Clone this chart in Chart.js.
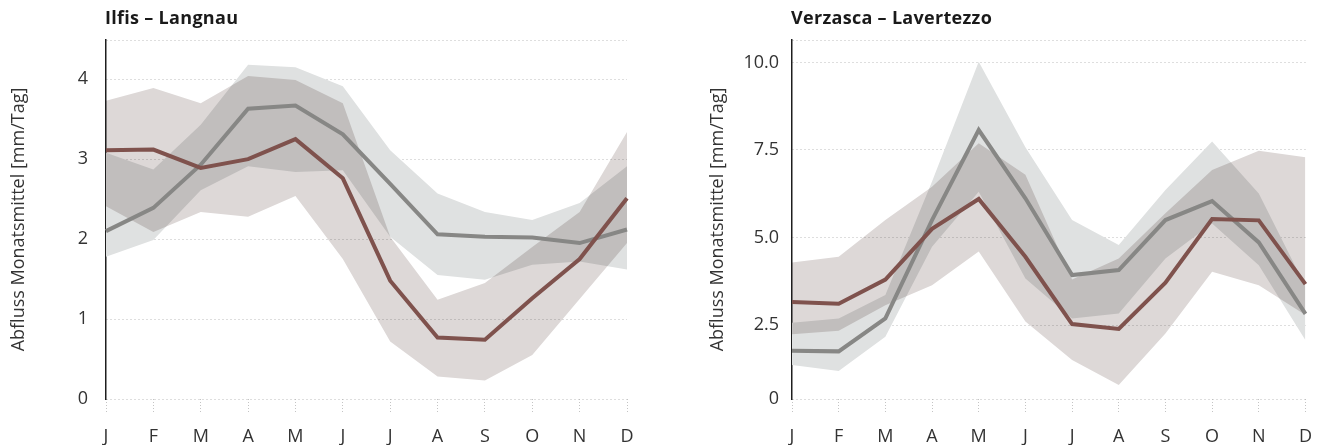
<!DOCTYPE html>
<html>
<head>
<meta charset="utf-8">
<script src="https://cdn.jsdelivr.net/npm/chart.js@4.4.0/dist/chart.umd.min.js"></script>
<style>
  html, body { margin: 0; padding: 0; background: #fff; }
  #wrap { position: relative; width: 1326px; height: 445px; overflow: hidden; }
  .panel { position: absolute; top: 0; width: 663px; height: 445px; }
  .title { position: absolute; top: 4px; font-family: 'Open Sans', sans-serif; font-weight: 700;
           font-size: 18px; line-height: 26px; letter-spacing: 0.3px; color: #1a1a1a; white-space: nowrap; }
</style>
</head>
<body>
<div id="wrap">
  <div class="panel" style="left:0"><canvas id="c1" width="663" height="445"></canvas></div>
  <div class="panel" style="left:663px"><canvas id="c2" width="663" height="445"></canvas></div>
  <div class="title" style="left:105px">Ilfis – Langnau</div>
  <div class="title" style="left:791px">Verzasca – Lavertezzo</div>
</div>
<script>
// ---- categories ----
const months = ['J', 'F', 'M', 'A', 'M', 'J', 'J', 'A', 'S', 'O', 'N', 'D'];
const yTitle = 'Abfluss Monatsmittel [mm/Tag]';

// ---- Ilfis – Langnau ----
const ilfisGrey       = [2.10, 2.39, 2.93, 3.63, 3.67, 3.31, 2.69, 2.06, 2.03, 2.02, 1.95, 2.12];
const ilfisGreyUpper  = [3.08, 2.87, 3.43, 4.18, 4.15, 3.91, 3.11, 2.57, 2.34, 2.24, 2.45, 2.91];
const ilfisGreyLower  = [1.78, 1.99, 2.61, 2.91, 2.84, 2.86, 2.03, 1.55, 1.49, 1.68, 1.72, 1.62];
const ilfisBrown      = [3.11, 3.12, 2.89, 3.00, 3.25, 2.76, 1.48, 0.77, 0.74, 1.26, 1.75, 2.51];
const ilfisBrownUpper = [3.73, 3.89, 3.70, 4.04, 3.99, 3.70, 2.03, 1.24, 1.45, 1.90, 2.34, 3.34];
const ilfisBrownLower = [2.41, 2.09, 2.34, 2.28, 2.54, 1.75, 0.72, 0.28, 0.23, 0.55, 1.25, 1.95];
const ilfisTickValues = [0, 1, 2, 3, 4];
const ilfisTickLabels = ['0', '1', '2', '3', '4'];
const ilfisRange = [0, 4.49];

// ---- Verzasca – Lavertezzo ----
const verzGrey       = [1.77, 1.75, 2.69, 5.50, 8.07, 6.12, 3.93, 4.07, 5.50, 6.04, 4.86, 2.82];
const verzGreyUpper  = [2.57, 2.69, 3.36, 6.60, 10.02, 7.58, 5.50, 4.79, 6.36, 7.74, 6.26, 3.60];
const verzGreyLower  = [1.36, 1.19, 2.17, 4.74, 6.31, 3.83, 2.69, 2.83, 4.40, 5.40, 4.21, 2.07];
const verzBrown      = [3.16, 3.11, 3.80, 5.25, 6.10, 4.45, 2.53, 2.39, 3.71, 5.53, 5.49, 3.67];
const verzBrownUpper = [4.29, 4.45, 5.50, 6.45, 7.69, 6.79, 3.80, 4.40, 5.69, 6.93, 7.48, 7.29];
const verzBrownLower = [2.24, 2.34, 3.07, 3.64, 4.60, 2.60, 1.50, 0.79, 2.26, 4.02, 3.64, 2.79];
const verzTickValues = [0.39, 2.5, 5, 7.5, 10];
const verzTickLabels = ['0', '2.5', '5.0', '7.5', '10.0'];
const verzRange = [0.39, 10.64];

// ---- styles ----
const COL_GREY_LINE = '#878785';
const COL_BROWN_LINE = '#7f524d';
const COL_GREY_BAND = '#dfe1e1';
const COL_BROWN_BAND = '#ddd8d7';
const FONT = 'Open Sans';

// grey band opaque; brown band multiplied on top (darker overlap)
const blendPlugin = {
  id: 'blend',
  afterDatasetDraw(chart, args) {
    const ds = chart.data.datasets[args.index];
    if (ds._role === 'brownLower') chart.ctx.globalCompositeOperation = 'multiply';
    if (ds._role === 'brownUpper') chart.ctx.globalCompositeOperation = 'source-over';
  },
  afterDraw(chart) { chart.ctx.globalCompositeOperation = 'source-over'; }
};

function band(data, role, order, fill, color) {
  return { data, _role: role, order, fill, backgroundColor: color,
           borderColor: 'rgba(0,0,0,0)', borderWidth: 0, pointRadius: 0, tension: 0 };
}
function line(data, color, order) {
  return { data, order, fill: false, borderColor: color, borderWidth: 4,
           borderJoinStyle: 'miter', pointRadius: 0, tension: 0 };
}

function makeChart(id, s) {
  const tv = s.tickValues, tl = s.tickLabels;
  return new Chart(document.getElementById(id), {
    type: 'line',
    data: {
      labels: months,
      datasets: [
        line(s.brown, COL_BROWN_LINE, 0),
        line(s.grey, COL_GREY_LINE, 1),
        band(s.brownUpper, 'brownUpper', 2, '+1', COL_BROWN_BAND),
        band(s.brownLower, 'brownLower', 3, false, COL_BROWN_BAND),
        band(s.greyUpper, 'greyUpper', 4, '+1', COL_GREY_BAND),
        band(s.greyLower, 'greyLower', 5, false, COL_GREY_BAND)
      ]
    },
    options: {
      responsive: false,
      animation: false,
      devicePixelRatio: 1,
      layout: { padding: { top: 40, right: s.padRight, bottom: 0, left: 0 } },
      plugins: { legend: { display: false }, tooltip: { enabled: false }, title: { display: false } },
      scales: {
        x: {
          type: 'category',
          offset: false,
          grid: { display: true, drawOnChartArea: false, drawTicks: true, tickLength: 13,
                  tickColor: '#c4c4c4', tickWidth: 1, tickBorderDash: [1, 2] },
          border: { display: false },
          ticks: { color: '#333', font: { family: FONT, size: 18, weight: '400' }, padding: 14,
                   maxRotation: 0, autoSkip: false },
          afterFit: (sc) => { sc.height = 46; }
        },
        y: {
          type: 'linear',
          min: s.range[0], max: s.range[1],
          grid: { color: '#bcbcbc', lineWidth: 1, drawTicks: false },
          border: { display: true, color: '#1e1e1e', width: 1.5, dash: [1, 3] },
          afterBuildTicks: (sc) => {
            sc.ticks = tv.map(v => ({ value: v })).concat([{ value: s.range[1] }]);
          },
          ticks: {
            color: '#333', padding: s.tickPad,
            font: { family: FONT, size: 18, weight: '400' },
            callback: (v) => { const i = tv.indexOf(v); return i >= 0 ? tl[i] : ''; }
          },
          title: { display: true, text: yTitle, color: '#333',
                   font: { family: FONT, size: 18, weight: '400' },
                   padding: { top: s.titlePad, bottom: 0 } },
          afterFit: (sc) => { sc.width = s.axisX; }
        }
      }
    },
    plugins: [blendPlugin]
  });
}

makeChart('c1', {
  grey: ilfisGrey, greyUpper: ilfisGreyUpper, greyLower: ilfisGreyLower,
  brown: ilfisBrown, brownUpper: ilfisBrownUpper, brownLower: ilfisBrownLower,
  tickValues: ilfisTickValues, tickLabels: ilfisTickLabels, range: ilfisRange,
  axisX: 106, padRight: 36, tickPad: 18, titlePad: 8
});
makeChart('c2', {
  grey: verzGrey, greyUpper: verzGreyUpper, greyLower: verzGreyLower,
  brown: verzBrown, brownUpper: verzBrownUpper, brownLower: verzBrownLower,
  tickValues: verzTickValues, tickLabels: verzTickLabels, range: verzRange,
  axisX: 129, padRight: 17, tickPad: 13, titlePad: 44
});
</script>
</body>
</html>
